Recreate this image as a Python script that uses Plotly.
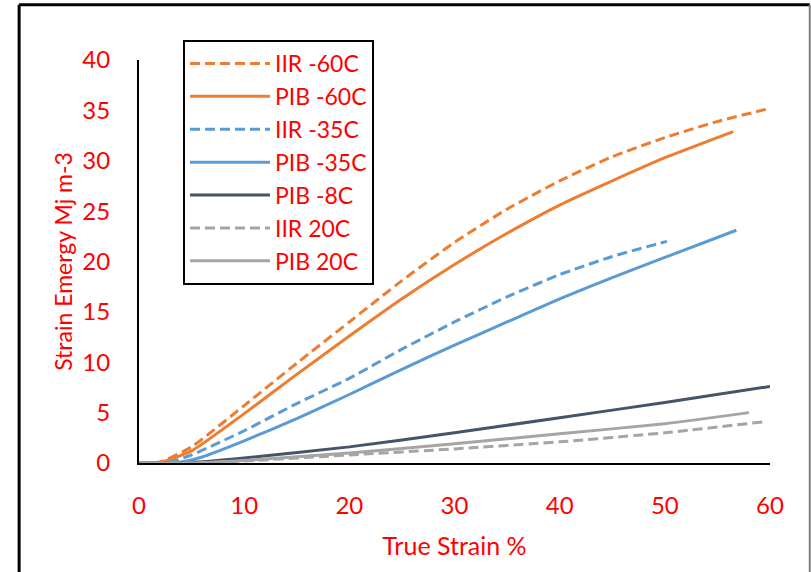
import plotly.graph_objects as go

# ---- data ----
iir60_x = [0, 2, 5, 10, 15, 20, 25, 30, 35, 40, 45, 50, 55, 60]
iir60_y = [0, 0.1, 1.6, 5.7, 9.9, 14.0, 18.1, 21.9, 25.2, 28.0, 30.4, 32.3, 33.9, 35.2]

pib60_x = [0, 2, 5, 10, 15, 20, 25, 30, 35, 40, 45, 50, 56.5]
pib60_y = [0, 0.05, 1.2, 4.9, 8.8, 12.6, 16.3, 19.7, 22.8, 25.6, 28.0, 30.3, 32.9]

iir35_x = [0, 3, 5, 10, 15, 20, 25, 30, 35, 40, 45, 50.2]
iir35_y = [0, 0.1, 0.8, 3.2, 5.9, 8.4, 11.3, 14.0, 16.5, 18.7, 20.5, 22.0]

pib35_x = [0, 4, 6, 10, 15, 20, 25, 30, 35, 40, 45, 50, 56.8]
pib35_y = [0, 0.1, 0.6, 2.2, 4.4, 6.8, 9.3, 11.7, 14.0, 16.3, 18.4, 20.4, 23.1]

pib8_x = [0, 5, 10, 20, 30, 40, 50, 60]
pib8_y = [0, 0.05, 0.5, 1.6, 3.0, 4.5, 6.0, 7.6]

iir20_x = [0, 5, 10, 20, 30, 40, 50, 59.5]
iir20_y = [0, 0, 0.2, 0.8, 1.4, 2.1, 3.0, 4.1]

pib20_x = [0, 5, 10, 20, 30, 40, 50, 58]
pib20_y = [0, 0, 0.25, 1.0, 1.9, 2.9, 3.9, 5.0]

x_ticks = [0, 10, 20, 30, 40, 50, 60]
y_ticks = [0, 5, 10, 15, 20, 25, 30, 35, 40]

ORANGE = "#ED7D31"
BLUE = "#5B9BD5"
DARK = "#44546A"
GRAY = "#A5A5A5"
RED = "#FF0000"
DASH = "10px,5px"

series = [
    ("IIR -60C", iir60_x, iir60_y, ORANGE, DASH),
    ("PIB -60C", pib60_x, pib60_y, ORANGE, "solid"),
    ("IIR -35C", iir35_x, iir35_y, BLUE, DASH),
    ("PIB -35C", pib35_x, pib35_y, BLUE, "solid"),
    ("PIB -8C", pib8_x, pib8_y, DARK, "solid"),
    ("IIR 20C", iir20_x, iir20_y, GRAY, DASH),
    ("PIB 20C", pib20_x, pib20_y, GRAY, "solid"),
]

fig = go.Figure()
for name, xs, ys, color, dash in series:
    fig.add_trace(go.Scatter(
        x=xs, y=ys, name=name, mode="lines",
        line=dict(color=color, width=3, dash=dash, shape="spline", smoothing=0.5),
    ))

FONT = "Lato, 'Open Sans', sans-serif"

fig.update_layout(
    width=811, height=572,
    margin=dict(l=139, r=41, t=60, b=109),
    paper_bgcolor="white", plot_bgcolor="white",
    font=dict(family=FONT, color=RED, size=24),
    showlegend=True,
    legend=dict(
        x=0.0697, y=1.0496, xanchor="left", yanchor="top",
        bordercolor="black", borderwidth=2, bgcolor="white",
        font=dict(family=FONT, color=RED, size=23),
        tracegroupgap=0, itemwidth=80,
    ),
    xaxis=dict(
        range=[0, 60], tickvals=x_ticks, showgrid=False, zeroline=False,
        showline=True, linecolor="black", linewidth=2,
        ticks="", ticklabelstandoff=20,
        tickfont=dict(family=FONT, color=RED, size=24),
        title=dict(text="True Strain %", font=dict(family=FONT, color=RED, size=25), standoff=20),
    ),
    yaxis=dict(
        range=[0, 40], tickvals=y_ticks, showgrid=False, zeroline=False,
        showline=True, linecolor="black", linewidth=2,
        ticks="", ticklabelstandoff=22,
        tickfont=dict(family=FONT, color=RED, size=24),
        title=dict(text="Strain Emergy Mj m-3", font=dict(family=FONT, color=RED, size=23), standoff=3),
    ),
)

# outer figure border (left/top black, right gray)
fig.add_shape(type="line", xref="paper", yref="paper",
              x0=-0.19, x1=-0.19, y0=-0.4, y1=1.137, line=dict(color="black", width=3))
fig.add_shape(type="line", xref="paper", yref="paper",
              x0=-0.19, x1=1.063, y0=1.137, y1=1.137, line=dict(color="black", width=3))
fig.add_shape(type="line", xref="paper", yref="paper",
              x0=1.063, x1=1.063, y0=-0.4, y1=1.137, line=dict(color="#7F7F7F", width=2))

fig.write_html("out.html", config={"displayModeBar": False},
               post_script="document.body.style.margin='0';")
